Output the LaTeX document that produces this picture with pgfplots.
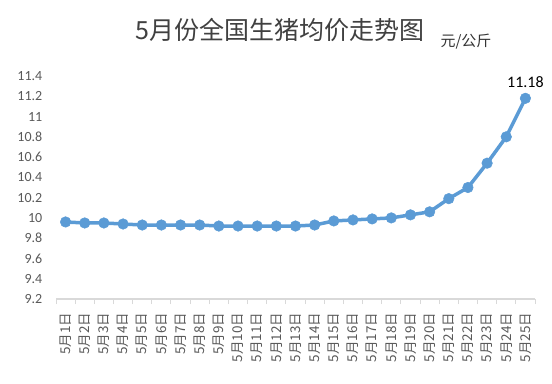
\documentclass[border=0pt]{standalone}
\usepackage{pgfplots}
\pgfplotsset{compat=1.18}
\usepackage{fontspec}
\setmainfont{Carlito}
\newfontfamily\cjk{Noto Sans CJK SC}
\definecolor{lineblue}{HTML}{5B9BD5}
\definecolor{txtgray}{HTML}{595959}
\definecolor{axgray}{HTML}{D9D9D9}
\pgfplotstableread{
x y
1 9.96
2 9.95
3 9.95
4 9.94
5 9.93
6 9.93
7 9.93
8 9.93
9 9.92
10 9.92
11 9.92
12 9.92
13 9.92
14 9.93
15 9.97
16 9.98
17 9.99
18 10.00
19 10.03
20 10.06
21 10.19
22 10.30
23 10.54
24 10.80
25 11.18
}\pricedata
\begin{document}
\begin{tikzpicture}
\useasboundingbox (-56bp,-85bp) rectangle (496bp,299bp);
\begin{axis}[
  at={(0,0)}, anchor=south west,
  scale only axis, width=479bp, height=223bp,
  xmin=0.5, xmax=25.5, ymin=9.2, ymax=11.4,
  axis x line*=bottom, axis y line*=left,
  x axis line style={draw=axgray, line width=1.5bp},
  y axis line style={draw=none},
  ytick={9.2,9.4,...,11.41},
  yticklabels={9.2,9.4,9.6,9.8,10,10.2,10.4,10.6,10.8,11,11.2,11.4},
  ytick style={draw=none},
  yticklabel style={font=\fontsize{14bp}{16bp}\selectfont, text=txtgray, xshift=-6bp},
  xtick={1,...,25},
  xticklabels={5月1日,5月2日,5月3日,5月4日,5月5日,5月6日,5月7日,5月8日,5月9日,5月10日,5月11日,5月12日,5月13日,5月14日,5月15日,5月16日,5月17日,5月18日,5月19日,5月20日,5月21日,5月22日,5月23日,5月24日,5月25日},
  xticklabel style={font=\cjk\fontsize{13.5bp}{15bp}\selectfont, text=txtgray, rotate=90, anchor=east, xshift=-6bp},
  major x tick style={draw=none},
  minor xtick={0.5,1.5,...,25.6},
  minor x tick style={draw=axgray, line width=1bp},
  minor tick length=5bp,
  tick align=outside,
  clip=false,
]
\addplot[color=lineblue, line width=3.5bp, line join=round, mark=*, mark size=5.3bp, mark options={solid, fill=lineblue, draw=lineblue, line width=0.5bp}] table[x=x,y=y] {\pricedata};
\node[font=\fontsize{16bp}{18bp}\selectfont, anchor=south] at (axis cs:25,11.25) {11.18};
\end{axis}
\node[font=\cjk\fontsize{25bp}{28bp}\selectfont, text=black!75] at (224bp,269bp) {5月份全国生猪均价走势图};
\node[font=\cjk\fontsize{15bp}{17bp}\selectfont, text=black!80] at (410bp,257bp) {元/公斤};
\end{tikzpicture}
\end{document}
